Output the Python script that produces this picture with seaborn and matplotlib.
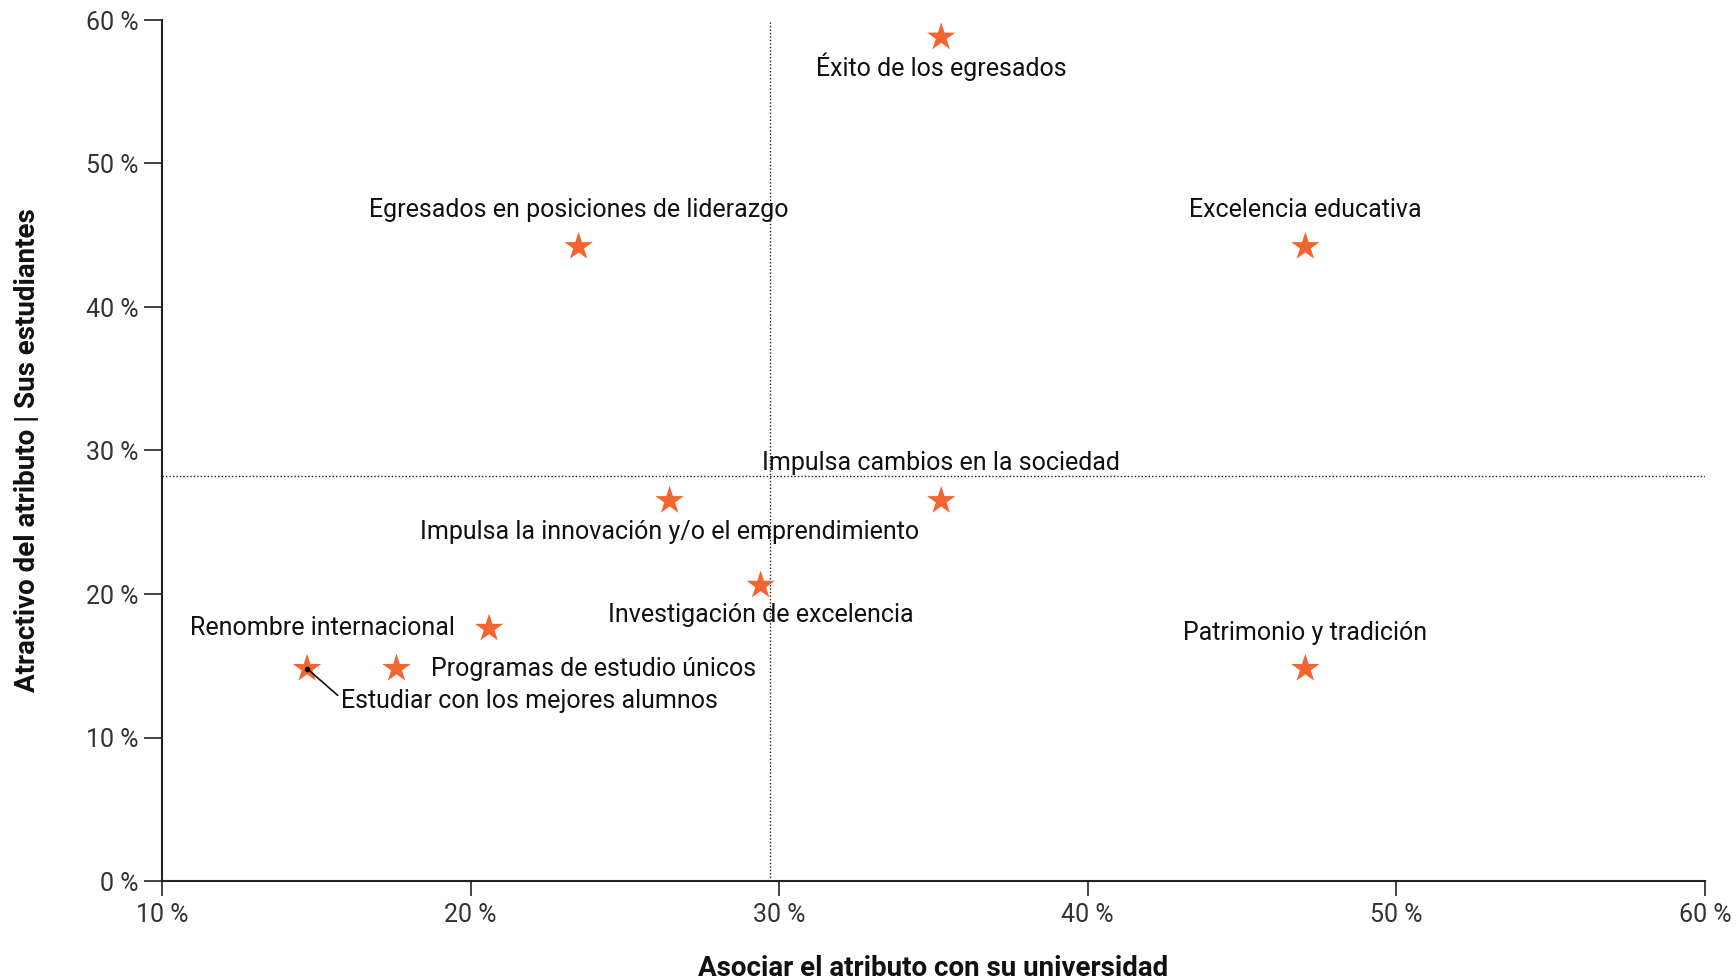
import matplotlib
matplotlib.use("Agg")
import matplotlib.pyplot as plt
import seaborn as sns
import pandas as pd
from matplotlib.ticker import FuncFormatter

atributos = [
    "Éxito de los egresados",
    "Egresados en posiciones de liderazgo",
    "Excelencia educativa",
    "Impulsa cambios en la sociedad",
    "Impulsa la innovación y/o el emprendimiento",
    "Investigación de excelencia",
    "Renombre internacional",
    "Programas de estudio únicos",
    "Estudiar con los mejores alumnos",
    "Patrimonio y tradición",
]
asociacion = [35.25, 23.5, 47.05, 35.25, 26.45, 29.4, 20.6, 17.6, 14.7, 47.05]
atractivo = [58.8, 44.2, 44.2, 26.5, 26.5, 20.6, 17.6, 14.8, 14.8, 14.8]
media_x = 29.7
media_y = 28.2
x_ticks = [10, 20, 30, 40, 50, 60]
y_ticks = [0, 10, 20, 30, 40, 50, 60]

df = pd.DataFrame({"atributo": atributos, "x": asociacion, "y": atractivo})

sns.set_theme(style="white")
plt.rcParams['font.family'] = ['Roboto', 'DejaVu Sans']

fig = plt.figure(figsize=(17.36, 9.8), dpi=100)
ax = fig.add_axes([162/1736, 1-881/980, (1705-162)/1736, (881-20)/980])

ax.axvline(media_x, color="#222222", lw=1.0, ls=(0, (1, 1.5)), zorder=1)
ax.axhline(media_y, color="#222222", lw=1.0, ls=(0, (1, 1.5)), zorder=1)

sns.scatterplot(data=df, x="x", y="y", marker="*", s=460, color="#F26430",
                edgecolor="none", ax=ax, zorder=3, legend=False)

FS = 18
place = {
    "Éxito de los egresados": (0, -30, "center", "center"),
    "Egresados en posiciones de liderazgo": (0, 37, "center", "center"),
    "Excelencia educativa": (0, 37, "center", "center"),
    "Impulsa cambios en la sociedad": (0, 38, "center", "center"),
    "Impulsa la innovación y/o el emprendimiento": (0, -31, "center", "center"),
    "Investigación de excelencia": (0, -30, "center", "center"),
    "Renombre internacional": (-34, 0, "right", "center"),
    "Programas de estudio únicos": (34, 0, "left", "center"),
    "Estudiar con los mejores alumnos": (34, -32, "left", "center"),
    "Patrimonio y tradición": (0, 36, "center", "center"),
}
for a, xv, yv in zip(atributos, asociacion, atractivo):
    dx, dy, ha, va = place[a]
    if a == "Estudiar con los mejores alumnos":
        ax.annotate(a, (xv, yv), xytext=(dx, dy), textcoords="offset pixels",
                    ha=ha, va=va, fontsize=FS, color="#111111", zorder=4,
                    arrowprops=dict(arrowstyle="-", color="#111111", lw=1.2,
                                    shrinkA=0, shrinkB=0,
                                    relpos=(0, 0.6)))
        ax.plot([xv], [yv], "o", color="black", ms=3, zorder=5)
    else:
        ax.annotate(a, (xv, yv), xytext=(dx, dy), textcoords="offset pixels",
                    ha=ha, va=va, fontsize=FS, color="#111111", zorder=4)

ax.set_xlim(10, 60)
ax.set_ylim(0, 60)
ax.set_xticks(x_ticks)
ax.set_yticks(y_ticks)
fmt = FuncFormatter(lambda v, p: f"{int(v)} %")
ax.xaxis.set_major_formatter(fmt)
ax.yaxis.set_major_formatter(fmt)
ax.tick_params(axis="both", which="major", width=1.2, color="#222222",
               labelsize=18, labelcolor="#333333", direction="out")
ax.tick_params(axis="x", bottom=True, length=11, pad=5)
ax.tick_params(axis="y", left=True, length=13, pad=4)

for side in ["top", "right"]:
    ax.spines[side].set_visible(False)
for side in ["left", "bottom"]:
    ax.spines[side].set_color("#222222")
    ax.spines[side].set_linewidth(1.5)

ax.set_xlabel("Asociar el atributo con su universidad", fontsize=20,
              fontweight="bold", color="#111111")
ax.set_ylabel("Atractivo del atributo | Sus estudiantes", fontsize=20,
              fontweight="bold", color="#111111")
ax.xaxis.set_label_coords(0.5, (881-955)/861)
ax.yaxis.set_label_coords((41-162)/1543, 0.5)

fig.savefig("out.png", dpi=100)
